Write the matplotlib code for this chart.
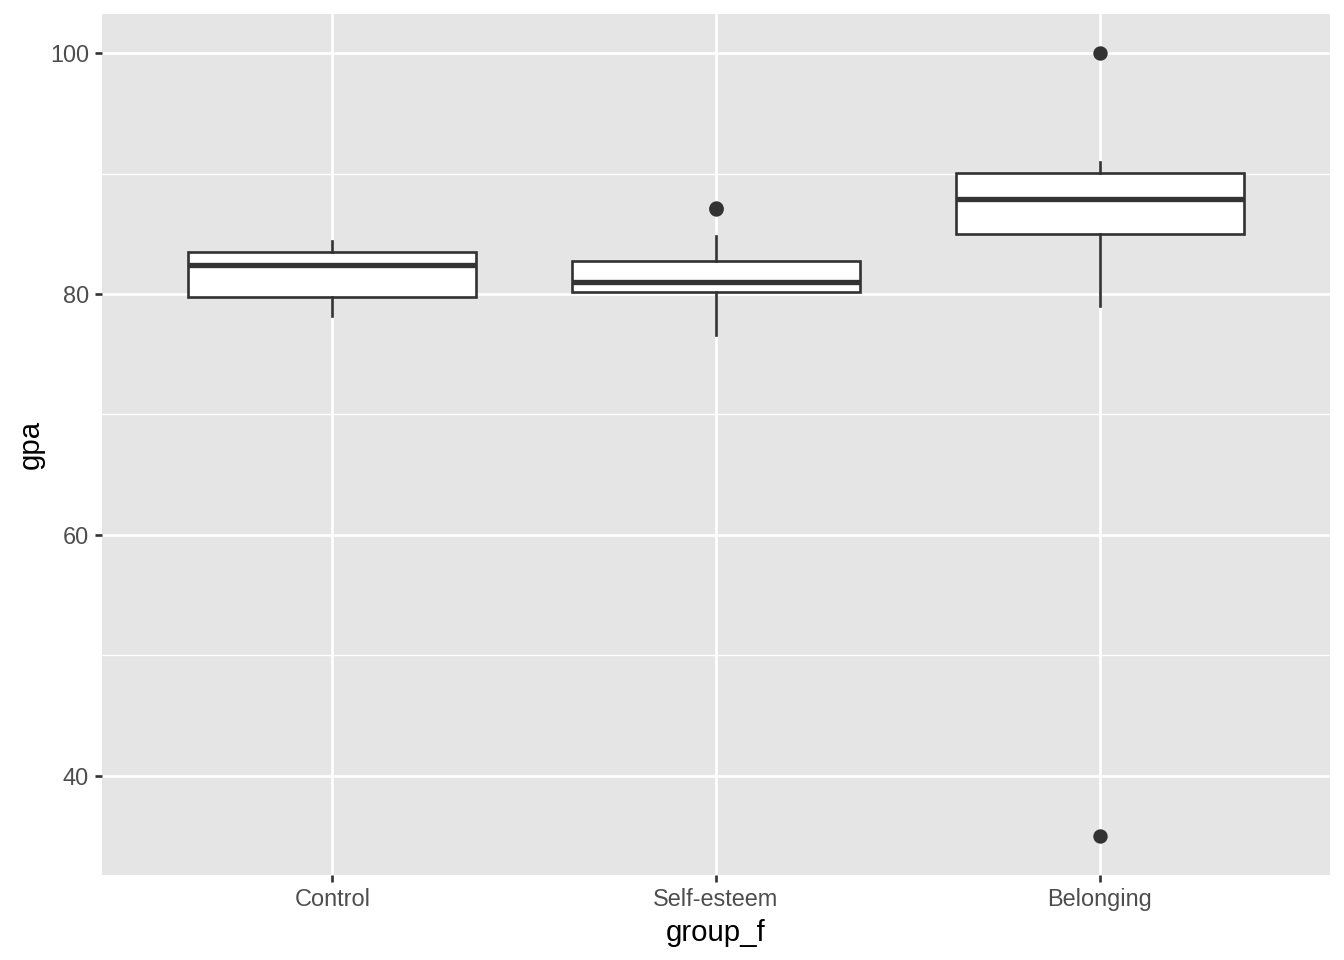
import matplotlib
matplotlib.use("Agg")
import matplotlib.pyplot as plt

plt.rcParams['font.family'] = ['Liberation Sans', 'DejaVu Sans']

groups = ["Control", "Self-esteem", "Belonging"]
# five-number summaries
whislo = [78.15, 76.6, 78.98]
q1 = [79.73, 80.14, 85.02]
med = [82.4, 80.97, 87.92]
q3 = [83.45, 82.76, 90.02]
whishi = [84.36, 84.83, 90.95]
fliers = [[], [87.09, 87.12], [100.0, 35.0]]

stats = []
for i, g in enumerate(groups):
    stats.append(dict(label=g, whislo=whislo[i], q1=q1[i], med=med[i],
                      q3=q3[i], whishi=whishi[i], fliers=fliers[i]))

fig = plt.figure(figsize=(7, 5), dpi=192)
ax = fig.add_axes([102 / 1344, 85 / 960, 1228 / 1344, 861 / 960])
ax.set_facecolor("#E5E5E5")

edge = "#333333"
ax.bxp(stats, positions=[1, 2, 3], widths=0.75, patch_artist=True,
       showcaps=False,
       boxprops=dict(facecolor="white", edgecolor=edge, linewidth=1.0),
       medianprops=dict(color=edge, linewidth=2.0),
       whiskerprops=dict(color=edge, linewidth=1.0),
       flierprops=dict(marker="o", markerfacecolor=edge, markeredgecolor=edge,
                       markersize=4.4, linestyle="none"),
       zorder=3)

ax.set_xlim(0.4, 3.6)
ax.set_ylim(31.75, 103.25)
ax.set_yticks([40, 60, 80, 100])
ax.set_yticks([50, 70, 90], minor=True)
ax.set_xticks([1, 2, 3])
ax.set_xticklabels(groups)

ax.grid(which="major", color="white", linewidth=1.0, zorder=0)
ax.grid(which="minor", axis="y", color="white", linewidth=0.5, zorder=0)
ax.set_axisbelow(True)
for s in ax.spines.values():
    s.set_visible(False)

ax.tick_params(which="major", length=2.75, width=1.0, color="#333333",
               labelcolor="#4D4D4D", labelsize=8.8, pad=2.2)
ax.tick_params(which="minor", length=0)

ax.set_xlabel("group_f", fontsize=11, color="black", labelpad=3)
ax.set_ylabel("gpa", fontsize=11, color="black", labelpad=2)

fig.savefig("out.png", dpi=192)
